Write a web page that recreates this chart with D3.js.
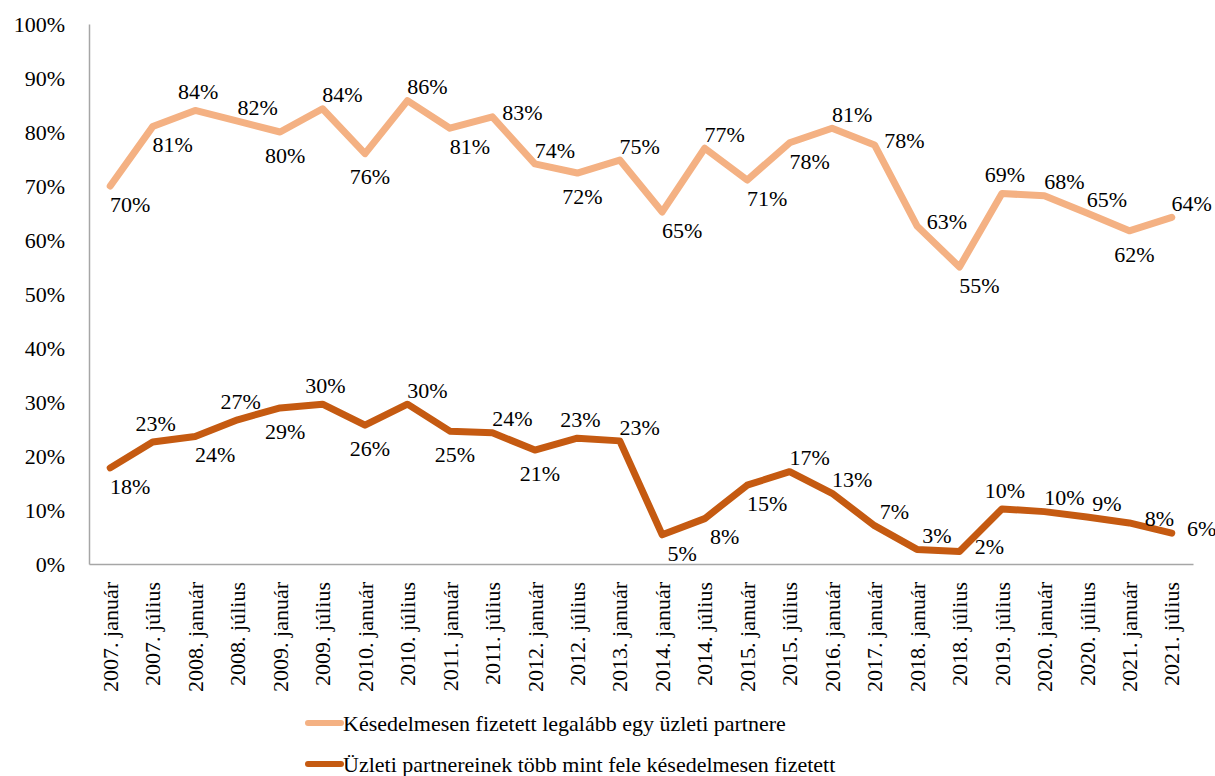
<!DOCTYPE html>
<html>
  <head>
    <meta charset="utf-8">
    <title>Késedelmes fizetés</title>
    <script type="text/javascript" src="https://d3js.org/d3.v7.min.js"></script>
    <style>
      body { margin: 0; background: #fff; }
    </style>
  </head>
  <body>
    <div id="chart"></div>
    <script type="text/javascript">
        // periods on the x axis
        var periods = ["2007. január", "2007. július", "2008. január", "2008. július", "2009. január",
            "2009. július", "2010. január", "2010. július", "2011. január", "2011. július",
            "2012. január", "2012. július", "2013. január", "2014. január", "2014. július",
            "2015. január", "2015. július", "2016. január", "2017. január", "2018. január",
            "2018. július", "2019. július", "2020. január", "2020. július", "2021. január",
            "2021. július"];

        var seriesNames = ["Késedelmesen fizetett legalább egy üzleti partnere",
            "Üzleti partnereinek több mint fele késedelmesen fizetett"];

        // percentages
        var atLeastOne = [70, 81, 84, 82, 80, 84.3, 76, 85.8, 80.7, 82.8, 74.1, 72.4, 74.8, 65.2,
            77, 71.1, 78, 80.7, 77.6, 62.6, 55, 68.6, 68.2, 65, 61.7, 64.2];
        var moreThanHalf = [17.8, 22.6, 23.6, 26.7, 28.9, 29.6, 25.7, 29.6, 24.6, 24.3, 21.1, 23.3,
            22.8, 5.4, 8.4, 14.6, 17.1, 13.1, 7.1, 2.7, 2.3, 10.2, 9.7, 8.7, 7.6, 5.7];

        var yTicks = [0, 10, 20, 30, 40, 50, 60, 70, 80, 90, 100];

        // where each data label sits relative to its point
        var place1 = ["b", "b", "A", "a", "B", "a", "B", "a", "b", "r", "a", "B", "a", "b", "a",
            "b", "b", "a", "r", "r", "b", "A", "a", "a", "B", "a"];
        var place2 = ["b", "A", "b", "A", "B", "A", "B", "a", "B", "a", "B", "A", "a", "b", "b",
            "b", "a", "a", "a", "a", "r", "A", "a", "a", "r", "r"];

        var nudge = {
            a: [20, -14], A: [3, -19],
            b: [20, 18], B: [5, 23],
            r: [30, -5]
        };

        var font = "'Liberation Serif', 'DejaVu Serif', serif";
        var width = 1215, height = 776;
        var margin = {top: 24, right: 22, bottom: 212, left: 89};

        var svg = d3.select("#chart").append("svg")
            .attr("width", width)
            .attr("height", height)
            .attr("font-family", font);

        var x = d3.scaleBand()
            .domain(periods)
            .range([margin.left, width - margin.right])
            .padding(0);

        var y = d3.scaleLinear()
            .domain([0, 100])
            .range([height - margin.bottom, margin.top]);

        var cx = function(i) { return x(periods[i]) + x.bandwidth() / 2; };

        // y axis
        var yAxis = svg.append("g")
            .attr("transform", "translate(" + margin.left + ",0)")
            .call(d3.axisLeft(y).tickValues(yTicks).tickSize(0).tickPadding(24)
                .tickFormat(function(d) { return d + "%"; }))
            .attr("font-family", font)
            .attr("font-size", 22);
        yAxis.select(".domain").attr("stroke", "#a6a6a6").attr("stroke-width", 1.5);
        yAxis.selectAll("text").attr("fill", "#000");

        // x axis
        var xAxis = svg.append("g")
            .attr("transform", "translate(0," + y(0) + ")")
            .call(d3.axisBottom(x).tickSize(0).tickSizeOuter(0))
            .attr("font-family", font)
            .attr("font-size", 22);
        xAxis.select(".domain").attr("stroke", "#a6a6a6").attr("stroke-width", 1.5);
        xAxis.selectAll("text")
            .attr("fill", "#000")
            .attr("transform", "rotate(-90)")
            .attr("text-anchor", "end")
            .attr("x", -18)
            .attr("y", 0)
            .attr("dy", "0.35em");

        var line = d3.line()
            .x(function(d, i) { return cx(i); })
            .y(function(d) { return y(d); });

        var series = [
            {values: atLeastOne, color: "#f4b183", place: place1},
            {values: moreThanHalf, color: "#c55a11", place: place2}
        ];

        series.forEach(function(s) {
            svg.append("path")
                .datum(s.values)
                .attr("fill", "none")
                .attr("stroke", s.color)
                .attr("stroke-width", 7)
                .attr("stroke-linejoin", "round")
                .attr("stroke-linecap", "round")
                .attr("d", line);

            svg.append("g").selectAll("text")
                .data(s.values)
                .enter()
                .append("text")
                    .attr("x", function(d, i) { return cx(i) + nudge[s.place[i]][0]; })
                    .attr("y", function(d, i) { return y(d) + nudge[s.place[i]][1]; })
                    .attr("dy", "0.35em")
                    .attr("text-anchor", "middle")
                    .attr("font-family", font)
                    .attr("font-size", 22)
                    .text(function(d) { return Math.round(d) + "%"; });
        });

        // legend
        var legend = svg.append("g")
            .attr("transform", "translate(308,723)");
        series.forEach(function(s, i) {
            var row = legend.append("g").attr("transform", "translate(0," + (i * 41) + ")");
            row.append("line")
                .attr("x1", 0).attr("x2", 33)
                .attr("y1", 0).attr("y2", 0)
                .attr("stroke", s.color)
                .attr("stroke-width", 6)
                .attr("stroke-linecap", "round");
            row.append("text")
                .attr("x", 35)
                .attr("y", 0)
                .attr("dy", "0.35em")
                .attr("font-family", font)
                .attr("font-size", 22)
                .text(seriesNames[i]);
        });
    </script>
  </body>
</html>
